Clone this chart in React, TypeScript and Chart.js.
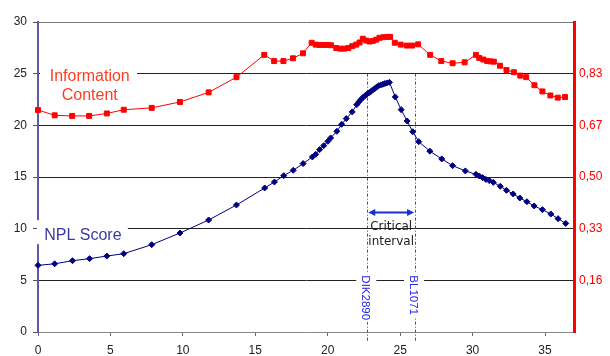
import React, { useEffect, useRef } from 'react';
import { Chart, registerables } from 'chart.js';

Chart.register(...registerables);

// NPL score (left axis) — marker positions in cM and scores
const npX = [0, 1.15, 2.38, 3.56, 4.75, 5.92, 7.85, 9.8, 11.78, 13.7, 15.65, 16.32, 16.96, 17.62, 18.3, 18.94, 19.17, 19.44, 19.72, 20.01, 20.2, 20.63, 20.96, 21.28, 21.69, 22.0, 22.15, 22.29, 22.42, 22.56, 22.7, 22.84, 22.97, 23.11, 23.25, 23.39, 23.52, 23.66, 23.8, 23.94, 24.08, 24.26, 24.66, 25.07, 25.48, 25.87, 26.28, 27.05, 27.87, 28.62, 29.5, 30.23, 30.46, 30.69, 30.92, 31.15, 31.43, 31.91, 32.34, 32.8, 33.26, 33.75, 34.25, 34.82, 35.4, 35.9, 36.43];
const npY = [6.45, 6.6, 6.9, 7.1, 7.35, 7.58, 8.45, 9.58, 10.84, 12.29, 13.94, 14.52, 15.13, 15.65, 16.3, 16.94, 17.2, 17.65, 18.03, 18.45, 18.78, 19.42, 20.1, 20.65, 21.3, 22.0, 22.27, 22.49, 22.68, 22.85, 23.0, 23.14, 23.26, 23.43, 23.55, 23.72, 23.84, 23.91, 23.97, 24.04, 24.1, 24.16, 22.75, 21.52, 20.42, 19.38, 18.42, 17.5, 16.75, 16.1, 15.59, 15.26, 15.1, 14.94, 14.77, 14.65, 14.48, 14.1, 13.71, 13.36, 12.97, 12.61, 12.2, 11.84, 11.42, 10.97, 10.51];

// Information content (right axis, 0..1)
const icX = [0, 1.15, 2.36, 3.53, 4.75, 5.92, 7.85, 9.8, 11.78, 13.7, 15.62, 16.3, 16.94, 17.6, 18.29, 18.89, 19.17, 19.44, 19.72, 19.99, 20.22, 20.59, 20.87, 21.14, 21.42, 21.69, 21.97, 22.2, 22.42, 22.66, 22.89, 23.11, 23.35, 23.57, 23.85, 24.13, 24.31, 24.63, 25.04, 25.46, 25.82, 26.24, 27.07, 27.84, 28.62, 29.45, 30.23, 30.46, 30.74, 31.01, 31.24, 31.47, 31.89, 32.34, 32.85, 33.29, 33.7, 34.27, 34.82, 35.37, 35.88, 36.38];
const icY = [0.716, 0.699, 0.697, 0.697, 0.705, 0.717, 0.723, 0.742, 0.773, 0.822, 0.894, 0.874, 0.874, 0.883, 0.899, 0.933, 0.927, 0.926, 0.926, 0.926, 0.925, 0.916, 0.914, 0.914, 0.916, 0.922, 0.927, 0.934, 0.946, 0.94, 0.937, 0.939, 0.943, 0.949, 0.951, 0.952, 0.952, 0.933, 0.927, 0.924, 0.924, 0.928, 0.894, 0.874, 0.867, 0.87, 0.894, 0.884, 0.879, 0.874, 0.873, 0.872, 0.859, 0.845, 0.838, 0.827, 0.822, 0.796, 0.776, 0.763, 0.756, 0.758];

const xTicks = [0, 5, 10, 15, 20, 25, 30, 35];
const leftTicks = [0, 5, 10, 15, 20, 25, 30];
const rightTickValues = [0, 1 / 6, 2 / 6, 3 / 6, 4 / 6, 5 / 6, 1];
const rightTickLabels = ['', '0,16', '0,33', '0,50', '0,67', '0,83', ''];

const markerNames = ['DIK2890', 'BL1071'];
const markerPos = [22.73, 26.03];
const intervalLabel = ['Critical', 'interval'];
const icLabel = ['Information', 'Content'];
const npLabel = 'NPL Score';

const FONT = '"Liberation Sans", Arial, sans-serif';

const annotPlugin = {
  id: 'annot',
  beforeDatasetsDraw(chart: any) {
    const ctx = chart.ctx as CanvasRenderingContext2D;
    const xs = chart.scales.x;
    const ys = chart.scales.y;
    const area = chart.chartArea;
    ctx.save();

    // dash-dot marker lines
    markerPos.forEach((p) => {
      const px = Math.round(xs.getPixelForValue(p)) + 0.5;
      ctx.strokeStyle = '#3a3aff';
      ctx.lineWidth = 1;
      ctx.setLineDash([3, 2, 1, 2]);
      ctx.beginPath();
      ctx.moveTo(px, ys.getPixelForValue(25));
      ctx.lineTo(px, area.bottom + 10);
      ctx.stroke();
    });
    ctx.setLineDash([]);

    // rotated marker names
    ctx.font = `11.5px ${FONT}`;
    markerNames.forEach((name, i) => {
      const px = xs.getPixelForValue(markerPos[i]);
      const top = ys.getPixelForValue(5) - 5;
      const w = ctx.measureText(name).width;
      ctx.fillStyle = '#fff';
      ctx.fillRect(px - 11, top - 2, 20, w + 4);
      ctx.save();
      ctx.translate(px - 2, top);
      ctx.rotate(Math.PI / 2);
      ctx.fillStyle = '#2222ee';
      ctx.textAlign = 'left';
      ctx.textBaseline = 'middle';
      ctx.fillText(name, 0, 0);
      ctx.restore();
    });

    // double arrow
    const x1 = xs.getPixelForValue(markerPos[0]) + 1;
    const x2 = xs.getPixelForValue(markerPos[1]) - 1;
    const ay = Math.round(ys.getPixelForValue(11.6)) + 0.5;
    ctx.strokeStyle = '#1a2fd0';
    ctx.fillStyle = '#1a2fd0';
    ctx.lineWidth = 2;
    ctx.beginPath();
    ctx.moveTo(x1 + 4, ay);
    ctx.lineTo(x2 - 4, ay);
    ctx.stroke();
    ctx.beginPath();
    ctx.moveTo(x1, ay);
    ctx.lineTo(x1 + 7, ay - 3.5);
    ctx.lineTo(x1 + 7, ay + 3.5);
    ctx.closePath();
    ctx.fill();
    ctx.beginPath();
    ctx.moveTo(x2, ay);
    ctx.lineTo(x2 - 7, ay - 3.5);
    ctx.lineTo(x2 - 7, ay + 3.5);
    ctx.closePath();
    ctx.fill();

    // critical interval text
    ctx.font = '12px "DejaVu Sans", sans-serif';
    ctx.fillStyle = '#222';
    ctx.textAlign = 'center';
    ctx.textBaseline = 'alphabetic';
    const cx = (x1 + x2) / 2;
    ctx.fillText(intervalLabel[0], cx, ay + 17.5);
    ctx.fillText(intervalLabel[1], cx, ay + 32.5);

    // Information Content label
    const y25 = ys.getPixelForValue(25);
    ctx.fillStyle = '#fff';
    ctx.fillRect(area.left + 2, y25 - 3, xs.getPixelForValue(6.84) - area.left - 2, 6);
    ctx.font = `16px ${FONT}`;
    ctx.fillStyle = '#ff3c1e';
    ctx.textAlign = 'center';
    const icx = xs.getPixelForValue(3.57);
    ctx.fillText(icLabel[0], icx, y25 + 7.5);
    ctx.fillText(icLabel[1], icx, y25 + 26);

    // NPL Score label
    const y10 = ys.getPixelForValue(10);
    ctx.fillStyle = '#fff';
    ctx.fillRect(area.left - 1, y10 - 8.5, xs.getPixelForValue(6.2) - area.left + 1, 24);
    ctx.fillStyle = '#3a3aa0';
    ctx.textAlign = 'left';
    ctx.fillText(npLabel, xs.getPixelForValue(0.43), y10 + 11);

    ctx.restore();
  },
};

export default function App() {
  const ref = useRef<HTMLCanvasElement>(null);
  useEffect(() => {
    document.body.style.margin = '0';
    const tickFont = { family: FONT, size: 12 };
    const chart = new Chart(ref.current!, {
      type: 'scatter',
      data: {
        datasets: [
          {
            label: 'NPL Score',
            data: npX.map((x, i) => ({ x, y: npY[i] })),
            yAxisID: 'y',
            showLine: true,
            borderColor: '#000080',
            backgroundColor: '#000080',
            borderWidth: 1,
            pointStyle: 'rectRot',
            pointRadius: 3,
            pointBorderWidth: 1,
            pointBorderColor: '#000080',
            clip: false,
          },
          {
            label: 'Information Content',
            data: icX.map((x, i) => ({ x, y: icY[i] })),
            yAxisID: 'y2',
            showLine: true,
            borderColor: '#ff0000',
            backgroundColor: '#ff0000',
            borderWidth: 1,
            pointStyle: 'rect',
            pointRadius: 3.5,
            pointBorderWidth: 1,
            pointBorderColor: '#ff0000',
            clip: false,
          },
        ],
      } as any,
      options: {
        animation: false,
        responsive: false,
        devicePixelRatio: 1,
        layout: { padding: { top: 22, left: 0, right: 0, bottom: 0 } },
        plugins: { legend: { display: false }, tooltip: { enabled: false } },
        scales: {
          x: {
            type: 'linear',
            min: 0,
            max: 37,
            afterBuildTicks: (s: any) => {
              s.ticks = xTicks.map((v) => ({ value: v }));
            },
            afterFit: (s: any) => {
              s.height = 24;
            },
            grid: { drawOnChartArea: false, drawTicks: true, tickLength: 4, tickColor: '#666' },
            border: { color: '#888', width: 1 },
            ticks: { color: '#222', font: tickFont, padding: 7, maxRotation: 0, autoSkip: false },
          },
          y: {
            type: 'linear',
            position: 'left',
            min: 0,
            max: 30,
            afterBuildTicks: (s: any) => {
              s.ticks = leftTicks.map((v) => ({ value: v }));
            },
            afterFit: (s: any) => {
              s.width = 38;
            },
            grid: {
              color: (c: any) =>
                c.tick && c.tick.value === 0 ? 'rgba(0,0,0,0)' : c.tick && c.tick.value === 30 ? '#777' : '#222',
              tickColor: '#555',
              tickLength: 5,
              lineWidth: 1,
            },
            border: { color: '#5a5aa8', width: 2 },
            ticks: { color: '#222', font: tickFont, padding: 6 },
          },
          y2: {
            type: 'linear',
            position: 'right',
            min: 0,
            max: 1,
            afterBuildTicks: (s: any) => {
              s.ticks = rightTickValues.map((v) => ({ value: v }));
            },
            afterFit: (s: any) => {
              s.width = 36;
            },
            grid: { drawOnChartArea: false, drawTicks: false },
            border: { color: '#ff0000', width: 3 },
            ticks: {
              color: '#ff0000',
              font: tickFont,
              padding: 5,
              callback: (_v: any, i: number) => rightTickLabels[i],
            },
          },
        },
      } as any,
      plugins: [annotPlugin],
    });
    return () => chart.destroy();
  }, []);
  return (
    <div style={{ position: 'absolute', left: 0, top: 0, width: 610, height: 356 }}>
      <canvas ref={ref} width={610} height={356} style={{ display: 'block', width: 610, height: 356 }} />
    </div>
  );
}
